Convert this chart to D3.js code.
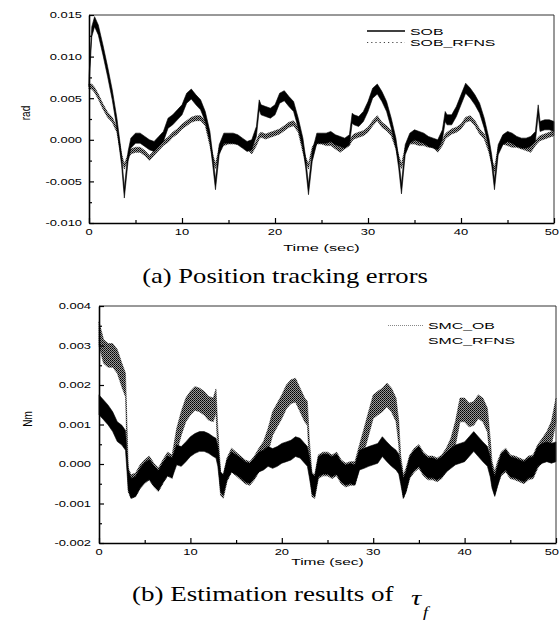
<!DOCTYPE html>
<html>
<head>
<meta charset="utf-8">
<script src="https://cdn.jsdelivr.net/npm/d3@7"></script>
<style>
body { margin: 0; background: #fff; }
</style>
</head>
<body>
<div id="view"></div>
<script>
var width = 560, height = 622;

// ---- (a) position tracking errors [rad] ----
var timeA = [
  0, 0.3, 0.6, 1, 1.5, 2, 2.5, 3, 3.5, 3.8,
  4.2, 4.5, 5, 5.5, 6, 6.5, 7, 7.5, 8, 8.5,
  9, 9.5, 10, 10.5, 11, 11.5, 12, 12.5, 13, 13.3,
  13.6, 14, 14.5, 15, 15.5, 16, 16.5, 17, 17.5, 18,
  18.3, 18.5, 19, 19.5, 20, 20.5, 21, 21.5, 22, 22.5,
  23, 23.3, 23.6, 24, 24.5, 25, 25.5, 26, 26.5, 27,
  27.5, 28, 28.3, 28.5, 29, 29.5, 30, 30.5, 31, 31.5,
  32, 32.5, 33, 33.3, 33.6, 34, 34.5, 35, 35.5, 36,
  36.5, 37, 37.5, 38, 38.3, 38.5, 39, 39.5, 40, 40.5,
  41, 41.5, 42, 42.5, 43, 43.3, 43.6, 44, 44.5, 45,
  45.5, 46, 46.5, 47, 47.5, 48, 48.3, 48.5, 49, 49.5,
  50
];
var sob = [
  7.0e-3, 13.0e-3, 14.2e-3, 13.2e-3, 10.8e-3, 8.2e-3, 5.4e-3, 2.0e-3, -2.4e-3, -6.4e-3,
  -2.0e-3, -0.4e-3, 0.2e-3, 0.2e-3, -0.2e-3, -0.6e-3, -0.8e-3, -0.2e-3, 0.4e-3, 2.0e-3,
  2.4e-3, 3.0e-3, 3.6e-3, 5.0e-3, 5.5e-3, 4.8e-3, 4.2e-3, 2.8e-3, 0.4e-3, -2.4e-3,
  -5.4e-3, -1.2e-3, 0.2e-3, 0.2e-3, 0.2e-3, 0.0e-3, -0.4e-3, -0.8e-3, -0.6e-3, 1.0e-3,
  4.2e-3, 3.6e-3, 3.4e-3, 3.2e-3, 3.6e-3, 5.0e-3, 5.3e-3, 4.6e-3, 4.0e-3, 2.0e-3,
  -0.4e-3, -2.8e-3, -6.0e-3, -2.0e-3, 0.2e-3, 0.2e-3, 0.2e-3, 0.4e-3, 0.0e-3, -0.2e-3,
  -0.4e-3, 0.0e-3, 2.6e-3, 2.4e-3, 2.2e-3, 2.8e-3, 4.0e-3, 5.6e-3, 6.1e-3, 5.2e-3,
  4.0e-3, 2.0e-3, -0.4e-3, -2.8e-3, -5.9e-3, -1.2e-3, 0.2e-3, 0.6e-3, 0.4e-3, 0.2e-3,
  -0.2e-3, -0.4e-3, -0.6e-3, 0.6e-3, 2.8e-3, 2.4e-3, 2.4e-3, 3.4e-3, 4.8e-3, 6.2e-3,
  5.6e-3, 4.8e-3, 3.8e-3, 2.0e-3, -0.4e-3, -2.4e-3, -5.4e-3, -1.2e-3, 0.0e-3, 0.4e-3,
  0.2e-3, -0.2e-3, -0.4e-3, -0.4e-3, -0.2e-3, 0.4e-3, 3.6e-3, 1.6e-3, 1.8e-3, 1.8e-3,
  1.6e-3
];
var sobRfns = [
  6.4e-3, 6.4e-3, 6.0e-3, 5.2e-3, 4.0e-3, 3.0e-3, 2.4e-3, 1.2e-3, -2.0e-3, -3.2e-3,
  -2.0e-3, -1.4e-3, -1.2e-3, -1.2e-3, -1.6e-3, -2.2e-3, -1.6e-3, -1.0e-3, -0.4e-3, 0.0e-3,
  0.6e-3, 1.0e-3, 1.6e-3, 2.0e-3, 2.4e-3, 2.6e-3, 2.6e-3, 2.0e-3, -0.4e-3, -2.0e-3,
  -3.2e-3, -1.2e-3, -0.4e-3, -0.2e-3, -0.2e-3, -0.2e-3, -0.6e-3, -0.8e-3, -1.4e-3, -0.4e-3,
  0.4e-3, 0.6e-3, 0.4e-3, 0.6e-3, 0.8e-3, 1.0e-3, 1.4e-3, 1.8e-3, 2.0e-3, 1.2e-3,
  -1.2e-3, -2.4e-3, -3.2e-3, -1.2e-3, -0.2e-3, -0.2e-3, -0.4e-3, -0.4e-3, -0.8e-3, -1.2e-3,
  -0.8e-3, -0.4e-3, 0.2e-3, 0.4e-3, 0.6e-3, 0.8e-3, 1.2e-3, 2.0e-3, 2.6e-3, 1.8e-3,
  1.4e-3, 0.8e-3, -0.8e-3, -2.2e-3, -3.2e-3, -1.2e-3, -0.2e-3, -0.2e-3, -0.4e-3, -0.4e-3,
  -0.6e-3, -0.6e-3, -1.2e-3, -0.4e-3, 0.4e-3, 0.6e-3, 1.0e-3, 1.2e-3, 1.6e-3, 2.4e-3,
  2.6e-3, 2.0e-3, 1.0e-3, 0.4e-3, -1.2e-3, -2.6e-3, -3.6e-3, -1.2e-3, -0.2e-3, -0.4e-3,
  -0.6e-3, -0.6e-3, -0.8e-3, -1.0e-3, -1.2e-3, -0.4e-3, 0.0e-3, 0.2e-3, 0.4e-3, 0.6e-3,
  0.8e-3
];
var yTicksA = [-0.010, -0.005, 0.000, 0.005, 0.010, 0.015];
var yMinorA = [-0.0075, -0.0025, 0.0025, 0.0075, 0.0125];

// ---- (b) estimation results of tau_f [Nm] ----
var timeB = [
  0, 0.5, 1, 1.5, 2, 2.5, 2.9, 3.2, 3.5, 4,
  4.5, 5, 5.5, 6, 6.5, 7, 7.5, 8, 8.5, 9,
  9.5, 10, 10.5, 11, 11.5, 12, 12.5, 12.8, 13, 13.3,
  13.6, 14, 14.5, 15, 15.5, 16, 16.5, 17, 17.5, 18,
  18.5, 19, 19.5, 20, 20.5, 21, 21.5, 22, 22.5, 22.8,
  23, 23.3, 23.6, 24, 24.5, 25, 25.5, 26, 26.5, 27,
  27.5, 28, 28.5, 29, 29.5, 30, 30.5, 31, 31.5, 32,
  32.5, 32.8, 33, 33.3, 33.6, 34, 34.5, 35, 35.5, 36,
  36.5, 37, 37.5, 38, 38.5, 39, 39.5, 40, 40.5, 41,
  41.5, 42, 42.5, 42.8, 43, 43.3, 43.6, 44, 44.5, 45,
  45.5, 46, 46.5, 47, 47.5, 48, 48.5, 49, 49.5, 50
];
var smcOb = [
  3.3e-3, 2.85e-3, 2.75e-3, 2.75e-3, 2.6e-3, 2.25e-3, 2.0e-3, -0.4e-3, -0.57e-3, -0.53e-3,
  -0.32e-3, -0.19e-3, -0.1e-3, -0.28e-3, -0.4e-3, -0.19e-3, 0.0e-3, -0.07e-3, 0.6e-3, 1.03e-3,
  1.37e-3, 1.54e-3, 1.66e-3, 1.62e-3, 1.54e-3, 1.41e-3, 1.37e-3, 1.6e-3, 0.6e-3, -0.5e-3,
  -0.57e-3, -0.15e-3, 0.1e-3, 0.0e-3, -0.1e-3, -0.2e-3, -0.24e-3, -0.1e-3, 0.1e-3, 0.27e-3,
  0.6e-3, 1.03e-3, 1.24e-3, 1.45e-3, 1.7e-3, 1.83e-3, 1.87e-3, 1.62e-3, 1.37e-3, 1.28e-3,
  0.35e-3, -0.53e-3, -0.57e-3, -0.07e-3, 0.0e-3, 0.0e-3, -0.07e-3, 0.0e-3, -0.2e-3, -0.28e-3,
  -0.24e-3, -0.24e-3, 0.19e-3, 0.6e-3, 1.03e-3, 1.45e-3, 1.54e-3, 1.62e-3, 1.75e-3, 1.62e-3,
  1.37e-3, 0.78e-3, -0.07e-3, -0.57e-3, -0.4e-3, -0.07e-3, 0.1e-3, 0.19e-3, 0.0e-3, -0.1e-3,
  -0.1e-3, -0.15e-3, -0.07e-3, 0.1e-3, 0.35e-3, 0.78e-3, 1.37e-3, 1.37e-3, 1.24e-3, 1.28e-3,
  1.45e-3, 1.37e-3, 1.11e-3, 0.35e-3, -0.24e-3, -0.49e-3, -0.24e-3, 0.0e-3, 0.1e-3, -0.07e-3,
  -0.1e-3, -0.15e-3, -0.2e-3, -0.1e-3, -0.07e-3, 0.19e-3, 0.35e-3, 0.52e-3, 0.78e-3, 1.37e-3
];
var smcRfns = [
  1.5e-3, 1.37e-3, 1.24e-3, 1.07e-3, 0.82e-3, 0.73e-3, 0.6e-3, -0.4e-3, -0.62e-3, -0.57e-3,
  -0.36e-3, -0.22e-3, -0.14e-3, -0.3e-3, -0.42e-3, -0.22e-3, -0.05e-3, -0.1e-3, 0.23e-3, 0.19e-3,
  0.31e-3, 0.44e-3, 0.52e-3, 0.57e-3, 0.57e-3, 0.52e-3, 0.44e-3, 0.4e-3, 0.19e-3, -0.45e-3,
  -0.53e-3, -0.15e-3, 0.05e-3, -0.02e-3, -0.1e-3, -0.2e-3, -0.24e-3, -0.1e-3, 0.05e-3, 0.1e-3,
  0.19e-3, 0.14e-3, 0.19e-3, 0.27e-3, 0.31e-3, 0.35e-3, 0.44e-3, 0.4e-3, 0.27e-3, 0.19e-3,
  -0.07e-3, -0.49e-3, -0.57e-3, -0.07e-3, 0.0e-3, 0.0e-3, -0.07e-3, 0.0e-3, -0.2e-3, -0.28e-3,
  -0.24e-3, -0.28e-3, 0.1e-3, 0.14e-3, 0.19e-3, 0.23e-3, 0.27e-3, 0.44e-3, 0.31e-3, 0.19e-3,
  0.1e-3, 0.0e-3, -0.24e-3, -0.62e-3, -0.45e-3, -0.07e-3, 0.1e-3, 0.19e-3, 0.0e-3, -0.1e-3,
  -0.1e-3, -0.15e-3, -0.07e-3, 0.05e-3, 0.14e-3, 0.23e-3, 0.27e-3, 0.31e-3, 0.44e-3, 0.57e-3,
  0.44e-3, 0.31e-3, 0.19e-3, -0.07e-3, -0.36e-3, -0.57e-3, -0.32e-3, 0.0e-3, 0.1e-3, -0.07e-3,
  -0.1e-3, -0.15e-3, -0.2e-3, -0.1e-3, -0.07e-3, 0.19e-3, 0.27e-3, 0.31e-3, 0.27e-3, 0.31e-3
];
var yTicksB = [-0.002, -0.001, 0.000, 0.001, 0.002, 0.003, 0.004];
var yMinorB = [-0.0015, -0.0005, 0.0005, 0.0015, 0.0025, 0.0035];

var xTicks = [0, 10, 20, 30, 40, 50];
var xMinor = [5, 15, 25, 35, 45];

var sans = "'Liberation Sans', Arial, sans-serif";
var serif = "'Liberation Serif', 'Times New Roman', serif";

var svg = d3.select("#view").append("svg")
  .attr("width", width)
  .attr("height", height)
  .style("display", "block");

// stipple for the dotted series
var defs = svg.append("defs");
var stip = defs.append("pattern")
  .attr("id", "stipple")
  .attr("width", 2).attr("height", 2)
  .attr("patternUnits", "userSpaceOnUse");
stip.append("rect").attr("width", 2).attr("height", 2).attr("fill", "#999");
stip.append("rect").attr("x", 0).attr("y", 0).attr("width", 1).attr("height", 1).attr("fill", "#000");
stip.append("rect").attr("x", 1).attr("y", 1).attr("width", 1).attr("height", 1).attr("fill", "#222");

function stretchText(parent, x, y, str, size, sx, anchor, family) {
  return parent.append("text")
    .attr("transform", "translate(" + x + "," + y + ") scale(" + sx + ",1)")
    .attr("text-anchor", anchor)
    .style("font-family", family)
    .style("font-size", size + "px")
    .attr("fill", "#000")
    .text(str);
}

function drawPanel(p) {
  var x = d3.scaleLinear().domain([0, 50]).range([p.left, p.right]);
  var y = d3.scaleLinear().domain(p.yDomain).range([p.bottom, p.top]);
  var g = svg.append("g");

  // series as noisy bands around the read-off trace
  p.series.forEach(function(s) {
    var pts = p.time.map(function(t, i) { return [t, s.values[i]]; });
    var area = d3.area()
      .x(function(d) { return x(d[0]); })
      .y0(function(d) { return y(d[1] - s.band); })
      .y1(function(d) { return y(d[1] + s.band); });
    g.append("path")
      .datum(pts)
      .attr("d", area)
      .attr("fill", s.fill)
      .attr("stroke", s.fill)
      .attr("stroke-width", 0.6);
  });

  // frame (top and right)
  g.append("line").attr("x1", p.left).attr("x2", p.right).attr("y1", p.top).attr("y2", p.top)
    .attr("stroke", "#333").attr("stroke-width", 1);
  g.append("line").attr("x1", p.right).attr("x2", p.right).attr("y1", p.top).attr("y2", p.bottom)
    .attr("stroke", "#333").attr("stroke-width", 1);

  // axes, ticks pointing inward
  var xAx = g.append("g").attr("transform", "translate(0," + p.bottom + ")")
    .call(d3.axisBottom(x).tickValues(xTicks).tickSize(-5).tickSizeOuter(0).tickFormat(""));
  var xMin = g.append("g").attr("transform", "translate(0," + p.bottom + ")")
    .call(d3.axisBottom(x).tickValues(xMinor).tickSize(-3).tickSizeOuter(0).tickFormat(""));
  var yAx = g.append("g").attr("transform", "translate(" + p.left + ",0)")
    .call(d3.axisLeft(y).tickValues(p.yTicks).tickSize(-5).tickSizeOuter(0).tickFormat(""));
  var yMin = g.append("g").attr("transform", "translate(" + p.left + ",0)")
    .call(d3.axisLeft(y).tickValues(p.yMinor).tickSize(-3).tickSizeOuter(0).tickFormat(""));
  [xMin, yMin].forEach(function(a) { a.select(".domain").remove(); });
  [xAx, yAx].forEach(function(a) {
    a.select(".domain").attr("stroke", "#000").attr("stroke-width", 1.6);
  });
  g.selectAll(".tick line").attr("stroke", "#000").attr("stroke-width", 1.2);

  // tick labels (the last one is pulled in so it stays on the page)
  xTicks.forEach(function(v) {
    var px = x(v), anchor = "middle";
    if (px + 7 > width) { px = width - 1; anchor = "end"; }
    stretchText(g, px, p.bottom + p.xLabelDy, String(v), 9.5, 1.36, anchor, sans);
  });
  p.yTicks.forEach(function(v) {
    stretchText(g, p.left - p.yLabelDx, y(v) + 3.4, v.toFixed(3), 9.5, 1.36, "end", sans);
  });

  // axis titles
  stretchText(g, (p.left + p.right) / 2, p.bottom + p.titleDy, "Time (sec)", 9.5, p.titleSx, "middle", sans);
  g.append("text")
    .attr("transform", "translate(" + p.yTitle[0] + "," + p.yTitle[1] + ") scale(1.3,1) rotate(-90)")
    .attr("text-anchor", "middle")
    .attr("dy", "0.35em")
    .style("font-family", sans)
    .style("font-size", "10px")
    .text(p.yLabel);

  // legend
  p.legend.forEach(function(l) {
    if (l.line) {
      g.append("line")
        .attr("x1", p.legendX[0]).attr("x2", p.legendX[1])
        .attr("y1", l.y - 3.5).attr("y2", l.y - 3.5)
        .attr("stroke", l.color)
        .attr("stroke-width", l.width)
        .attr("stroke-dasharray", l.dash);
    }
    stretchText(g, p.legendX[1] + 5, l.y, l.name, 9.5, 1.67, "start", sans);
  });
}

drawPanel({
  left: 89, right: 554, top: 15, bottom: 223,
  yDomain: [-0.010, 0.015],
  yTicks: yTicksA, yMinor: yMinorA,
  time: timeA,
  series: [
    { values: sobRfns, band: 0.0003, fill: "url(#stipple)" },
    { values: sob, band: 0.0006, fill: "#000" }
  ],
  xLabelDy: 12, yLabelDx: 7, titleDy: 28, titleSx: 1.72,
  yLabel: "rad", yTitle: [25, 113],
  legendX: [367, 405],
  legend: [
    { name: "SOB", y: 34.5, line: true, color: "#000", width: 1.5, dash: null },
    { name: "SOB_RFNS", y: 46, line: true, color: "#444", width: 1.2, dash: "1.2,3" }
  ]
});

drawPanel({
  left: 99, right: 556, top: 306, bottom: 543,
  yDomain: [-0.002, 0.004],
  yTicks: yTicksB, yMinor: yMinorB,
  time: timeB,
  series: [
    { values: smcOb, band: 0.0003, fill: "url(#stipple)" },
    { values: smcRfns, band: 0.00025, fill: "#000" }
  ],
  xLabelDy: 12, yLabelDx: 8, titleDy: 22, titleSx: 1.63,
  yLabel: "Nm", yTitle: [27, 419],
  legendX: [388, 423],
  legend: [
    { name: "SMC_OB", y: 329, line: true, color: "#888", width: 1, dash: "1,1" },
    { name: "SMC_RFNS", y: 343.5, line: false }
  ]
});

// captions
stretchText(svg, 285, 283, "(a) Position tracking errors", 20, 1.33, "middle", serif);
stretchText(svg, 132, 601, "(b) Estimation results of", 20, 1.35, "start", serif);
stretchText(svg, 411, 605, "\u03c4", 22, 1.3, "start", serif).style("font-style", "italic");
stretchText(svg, 423, 617, "f", 14, 1.3, "start", serif).style("font-style", "italic");
</script>
</body>
</html>
